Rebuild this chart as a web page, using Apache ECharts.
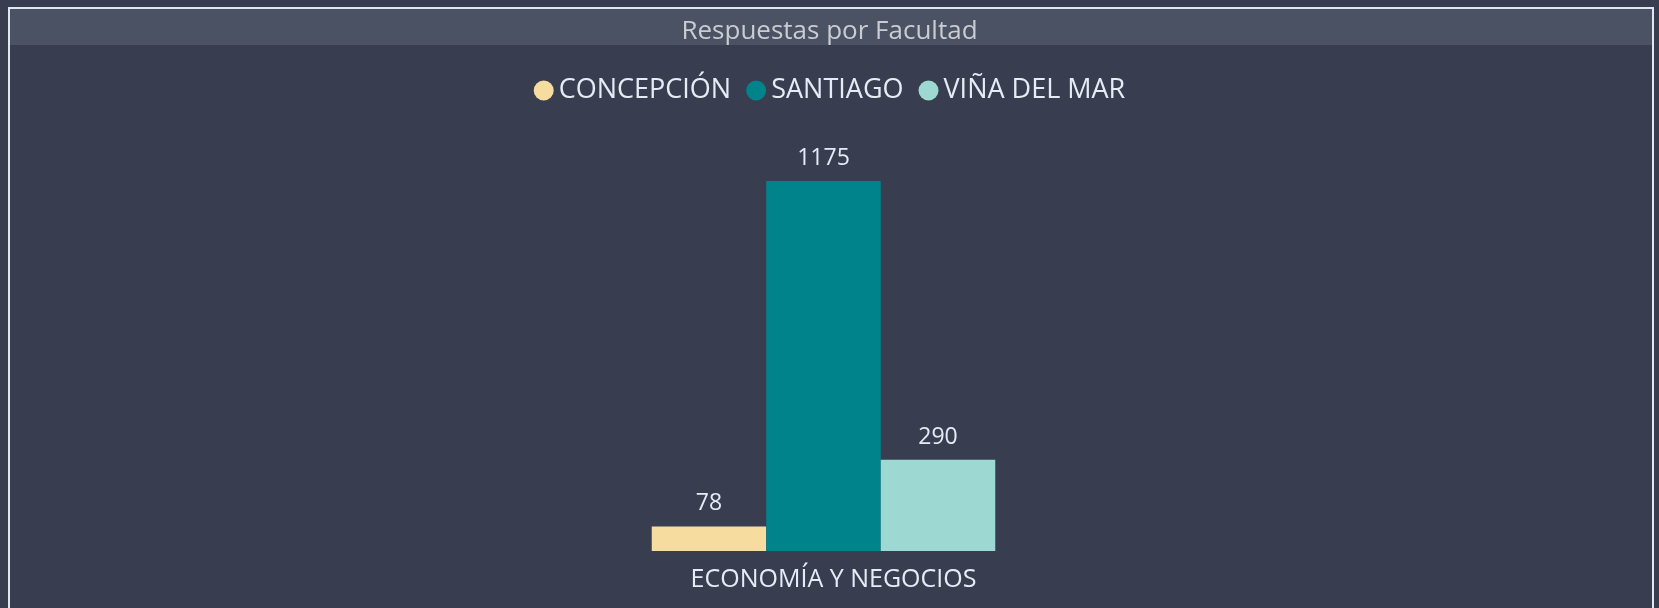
<!DOCTYPE html>
<html>
<head>
<meta charset="utf-8">
<script src="https://cdn.jsdelivr.net/npm/echarts@6/dist/echarts.min.js"></script>
<style>
  html, body { margin: 0; padding: 0; background: #383e50; }
  #chart { width: 1659px; height: 608px; }
</style>
</head>
<body>
<div id="chart"></div>
<script>
// datos
const facultades = ['ECONOMÍA Y NEGOCIOS'];
const sedes = ['CONCEPCIÓN', 'SANTIAGO', 'VIÑA DEL MAR'];
const concepcion = [78];
const santiago = [1175];
const vinaDelMar = [290];
const colores = ['#f7dca0', '#00838a', '#9ed8d2'];

const valores = [concepcion, santiago, vinaDelMar];
const fuente = '"Open Sans", "Noto Sans", sans-serif';

let chart = echarts.init(document.getElementById('chart'));

let series = sedes.map((nombre, i) => ({
    name: nombre,
    type: 'bar',
    data: valores[i],
    barWidth: 114.5,
    barGap: '0%',
    itemStyle: { color: colores[i] },
    label: {
        show: true,
        position: 'top',
        distance: 11,
        color: '#e6ecf5',
        fontSize: 23,
        fontFamily: fuente
    }
}));

chart.setOption({
    backgroundColor: '#383e50',
    graphic: [
        {
            type: 'rect',
            shape: { x: 9, y: 8, width: 1644, height: 620 },
            style: { fill: 'transparent', stroke: '#dfe8f2', lineWidth: 2 },
            z: 10
        },
        {
            type: 'rect',
            shape: { x: 10, y: 9, width: 1642, height: 36 },
            style: { fill: '#4a5263' },
            z: 0
        }
    ],
    title: {
        text: 'Respuestas por Facultad',
        left: 'center',
        top: 14,
        textStyle: { color: '#c9ccd1', fontSize: 26, fontWeight: 'normal', fontFamily: fuente }
    },
    legend: {
        data: sedes,
        top: 72,
        left: 'center',
        icon: 'circle',
        itemWidth: 20,
        itemHeight: 20,
        itemGap: 15,
        textStyle: { color: '#e6ecf5', fontSize: 27, fontFamily: fuente }
    },
    grid: { left: 10, right: 22, top: 173, bottom: 57 },
    xAxis: {
        type: 'category',
        data: facultades,
        axisLine: { show: false },
        axisTick: { show: false },
        axisLabel: {
            color: '#e6ecf5',
            fontSize: 25,
            fontFamily: fuente,
            margin: 16,
            padding: [0, 0, 0, 20]
        }
    },
    yAxis: {
        type: 'value',
        min: 0,
        max: 1200,
        show: false,
        splitLine: { show: false }
    },
    series: series
});
</script>
</body>
</html>
